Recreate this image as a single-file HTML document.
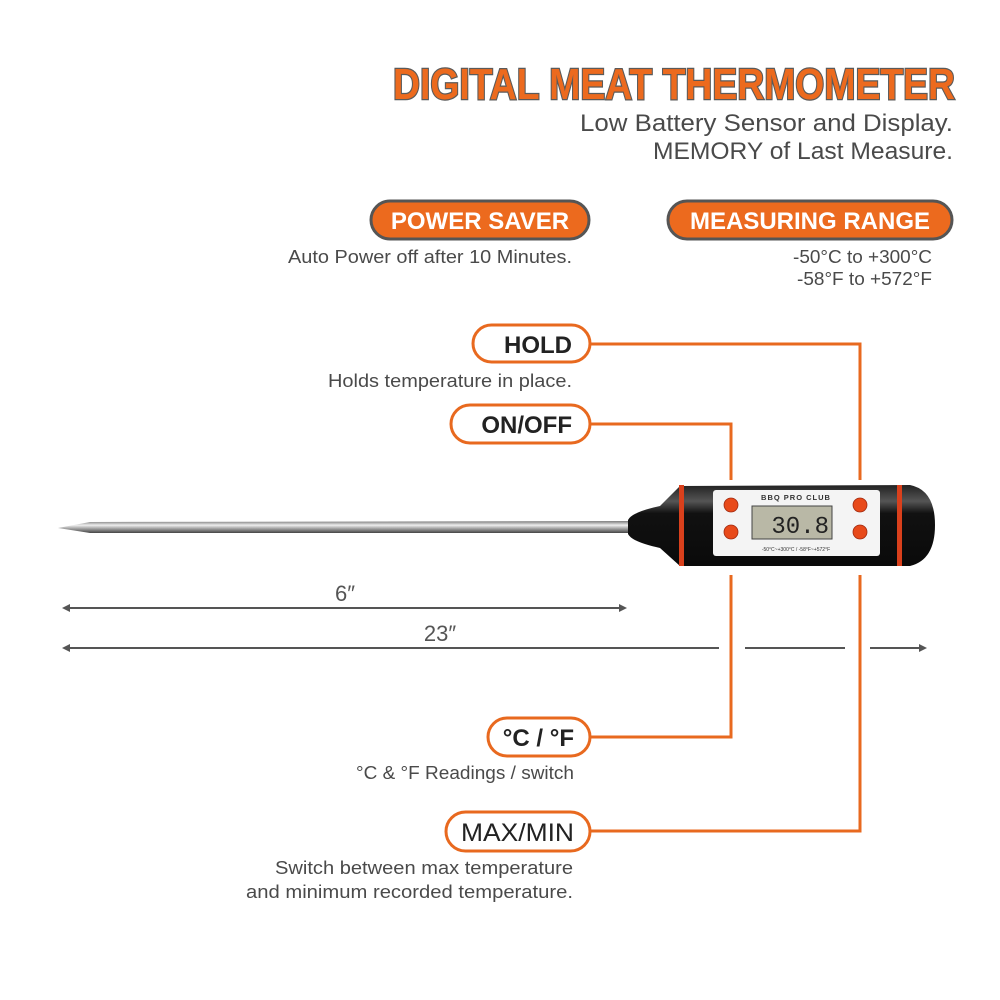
<!DOCTYPE html>
<html><head><meta charset="utf-8"><style>
html,body{margin:0;padding:0;background:#fff;}
svg{display:block;}
</style></head><body>
<svg width="1000" height="1000" viewBox="0 0 1000 1000" xmlns="http://www.w3.org/2000/svg" font-family="Liberation Sans, sans-serif">
<defs>
<linearGradient id="probe" x1="0" y1="0" x2="0" y2="1">
<stop offset="0" stop-color="#777"/><stop offset="0.35" stop-color="#eee"/><stop offset="0.6" stop-color="#aaa"/><stop offset="1" stop-color="#444"/>
</linearGradient>
<linearGradient id="body" x1="0" y1="0" x2="0" y2="1">
<stop offset="0" stop-color="#222"/><stop offset="0.2" stop-color="#555"/><stop offset="0.35" stop-color="#111"/><stop offset="1" stop-color="#0a0a0a"/>
</linearGradient>
</defs>
<!-- Title -->
<text x="955" y="99" text-anchor="end" font-size="44" font-weight="bold" fill="#ec6a1e" stroke="#5a5a5a" stroke-width="2.5" paint-order="stroke" textLength="562" lengthAdjust="spacingAndGlyphs">DIGITAL MEAT THERMOMETER</text>
<text x="953" y="131" text-anchor="end" font-size="24" fill="#4a4a4a" textLength="373" lengthAdjust="spacingAndGlyphs">Low Battery Sensor and Display.</text>
<text x="953" y="159" text-anchor="end" font-size="24" fill="#4a4a4a" textLength="300" lengthAdjust="spacingAndGlyphs">MEMORY of Last Measure.</text>

<!-- Orange pills -->
<rect x="371" y="201" width="218" height="38" rx="19" fill="#ec6a1e" stroke="#555" stroke-width="3"/>
<text x="480" y="229" text-anchor="middle" font-size="24" font-weight="bold" fill="#fff">POWER SAVER</text>
<rect x="668" y="201" width="284" height="38" rx="19" fill="#ec6a1e" stroke="#555" stroke-width="3"/>
<text x="810" y="229" text-anchor="middle" font-size="24" font-weight="bold" fill="#fff">MEASURING RANGE</text>
<text x="572" y="263" text-anchor="end" font-size="18" fill="#4a4a4a" textLength="284" lengthAdjust="spacingAndGlyphs">Auto Power off after 10 Minutes.</text>
<text x="932" y="263" text-anchor="end" font-size="18" fill="#4a4a4a" textLength="139" lengthAdjust="spacingAndGlyphs">-50°C to +300°C</text>
<text x="932" y="285" text-anchor="end" font-size="18" fill="#4a4a4a" textLength="135" lengthAdjust="spacingAndGlyphs">-58°F to +572°F</text>

<!-- Connector lines -->
<g stroke="#e8691f" stroke-width="3" fill="none">
<polyline points="590,344 860,344 860,480"/>
<polyline points="860,575 860,831 590,831"/>
<polyline points="590,424 731,424 731,480"/>
<polyline points="731,575 731,737 590,737"/>
</g>

<!-- White pills -->
<g fill="#fff" stroke="#e8691f" stroke-width="3">
<rect x="473" y="325" width="117" height="37" rx="18.5"/>
<rect x="451" y="405" width="139" height="38" rx="19"/>
<rect x="488" y="718" width="102" height="38" rx="19"/>
<rect x="446" y="812" width="144" height="39" rx="19.5"/>
</g>
<text x="572" y="353" text-anchor="end" font-size="24" font-weight="bold" fill="#222">HOLD</text>
<text x="572" y="433" text-anchor="end" font-size="24" font-weight="bold" fill="#222">ON/OFF</text>
<text x="574" y="746" text-anchor="end" font-size="24" font-weight="bold" fill="#222">°C / °F</text>
<text x="574" y="841" text-anchor="end" font-size="25" fill="#222" textLength="113" lengthAdjust="spacingAndGlyphs">MAX/MIN</text>
<text x="572" y="387" text-anchor="end" font-size="18" fill="#4a4a4a" textLength="244" lengthAdjust="spacingAndGlyphs">Holds temperature in place.</text>
<text x="574" y="779" text-anchor="end" font-size="18" fill="#4a4a4a" textLength="218" lengthAdjust="spacingAndGlyphs">°C &amp; °F Readings / switch</text>
<text x="573" y="874" text-anchor="end" font-size="18" fill="#4a4a4a" textLength="298" lengthAdjust="spacingAndGlyphs">Switch between max temperature</text>
<text x="573" y="898" text-anchor="end" font-size="18" fill="#4a4a4a" textLength="327" lengthAdjust="spacingAndGlyphs">and minimum recorded temperature.</text>

<!-- Dimension lines -->
<g stroke="#555" stroke-width="2" fill="#555">
<line x1="66" y1="608" x2="622" y2="608"/>
<polygon points="62,608 70,604 70,612" stroke="none"/>
<polygon points="627,608 619,604 619,612" stroke="none"/>
<line x1="66" y1="648" x2="719" y2="648"/>
<line x1="745" y1="648" x2="845" y2="648"/>
<line x1="870" y1="648" x2="922" y2="648"/>
<polygon points="62,648 70,644 70,652" stroke="none"/>
<polygon points="927,648 919,644 919,652" stroke="none"/>
</g>
<text x="345" y="601" text-anchor="middle" font-size="22" fill="#555">6″</text>
<text x="440" y="641" text-anchor="middle" font-size="22" fill="#555">23″</text>

<!-- Thermometer -->
<path d="M58,528 L90,522 L640,521 L640,533 L90,533 Z" fill="url(#probe)"/>
<path d="M628,520 Q632,512 660,506 L680,486 L910,485 Q935,490 935,525 Q935,560 910,566 L680,566 L660,548 Q632,542 628,534 Z" fill="url(#body)"/>
<rect x="679" y="485" width="5" height="81" fill="#d9401c"/>
<rect x="897" y="485" width="5" height="81" fill="#d9401c"/>
<rect x="713" y="490" width="167" height="66" rx="3" fill="#f4f4f4"/>
<text x="796" y="500" text-anchor="middle" font-size="7.5" font-weight="bold" fill="#333" letter-spacing="1">BBQ PRO CLUB</text>
<rect x="752" y="506" width="80" height="33" fill="#b9b8a6" stroke="#444" stroke-width="1"/>
<text x="829" y="533" text-anchor="end" font-size="24" font-family="Liberation Mono, monospace" fill="#222">30.8</text>
<text x="796" y="551" text-anchor="middle" font-size="5" fill="#333">-50°C~+300°C / -58°F~+572°F</text>
<g fill="#e84a1a" stroke="#a02a10" stroke-width="0.8">
<circle cx="731" cy="505" r="7"/><circle cx="731" cy="532" r="7"/>
<circle cx="860" cy="505" r="7"/><circle cx="860" cy="532" r="7"/>
</g>
</svg>
</body></html>
